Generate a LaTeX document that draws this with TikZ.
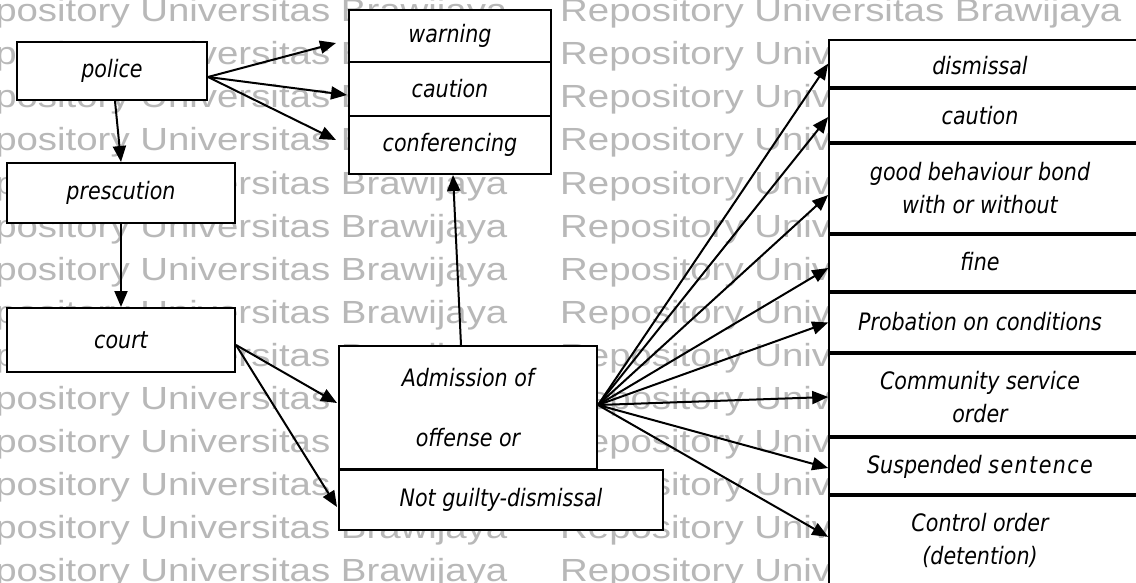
\documentclass[tikz,border=0pt]{standalone}
\usepackage{fontspec}
\setmainfont{DejaVu Sans}[FakeStretch=0.86]
\newfontfamily\wmfont{Liberation Sans}
\usetikzlibrary{arrows.meta,calc}
\definecolor{wmgray}{gray}{0.72}
\tikzset{
  wm/.style={font=\wmfont\fontsize{32}{32}\selectfont, text=wmgray, inner sep=0pt, anchor=base west},
  box/.style={draw, fill=white, line width=2pt, inner sep=0pt, font=\itshape\fontsize{24}{28}\selectfont, align=center},
  rbox/.style={draw, fill=white, line width=1.6pt, minimum width=316pt, inner sep=0pt},
  lbl/.style={inner sep=0pt, font=\itshape\fontsize{24}{33}\selectfont, align=center},
  arr/.style={line width=2pt, -{Triangle[length=16pt,width=13pt]}},
}
\begin{document}
\begin{tikzpicture}[x=1pt,y=-1pt]
\useasboundingbox (0,0) rectangle (1136,583);
\begin{scope}
\clip (0,0) rectangle (1136,583);
\fill[white] (0,0) rectangle (1136,583);
% watermark
\foreach \k in {0,...,13}{
  \node[wm] (wmL\k) at (-54,{22+43*\k}) {\scalebox{1.2}[1]{Repository Universitas Brawijaya}};
  \node[wm] (wmR\k) at (560,{22+43*\k}) {\scalebox{1.2}[1]{Repository Universitas Brawijaya}};
}
% left column
\node[box, minimum width=190pt, minimum height=58pt] (police) at (112,71) {police};
\node[box, minimum width=228pt, minimum height=60pt] (pres) at (121,193) {prescution};
\node[box, minimum width=228pt, minimum height=64pt] (court) at (121,340) {court};
% police outcomes
\node[box, minimum width=202pt, minimum height=52pt] (warn) at (450,36) {warning};
\node[box, minimum width=202pt, minimum height=54pt] (caut) at (450,89) {caution};
\node[box, minimum width=202pt, minimum height=58pt] (conf) at (450,145) {conferencing};
% court outcomes
\node[box, minimum width=258pt, minimum height=123pt] (adm) at (468,407.5) {Admission of\\[32pt]offense or};
\node[box, minimum width=324pt, minimum height=60pt] (ng) at (501,500) {Not guilty-dismissal};
% sentence column
\node[rbox, minimum height=47.25pt] (r1) at (987,63.6) {};
\node[rbox, minimum height=53.5pt] (r2) at (987,115.5) {};
\node[rbox, minimum height=89.5pt] (r3) at (987,188.5) {};
\node[rbox, minimum height=56.5pt] (r4) at (987,263) {};
\node[rbox, minimum height=59.5pt] (r5) at (987,322.5) {};
\node[rbox, minimum height=82.5pt] (r6) at (987,395) {};
\node[rbox, minimum height=56.5pt] (r7) at (987,466) {};
\node[rbox, minimum height=94.25pt] (r8) at (987,542.9) {};
\node[lbl] (t1) at (980,66) {dismissal};
\node[lbl] (t2) at (980,116) {caution};
\node[lbl] (t3) at (980,188) {good behaviour bond\\with or without};
\node[lbl] (t4) at (980,262) {fine};
\node[lbl] (t5) at (980,322) {Probation on conditions};
\node[lbl] (t6) at (980,397) {Community service\\order};
\node[lbl] (t7) at (980,467) {Suspended {\addfontfeature{LetterSpace=6}sentence}};
\node[lbl] (t8) at (980,540) {Control order\\(detention)};
% arrows
\draw[arr] ([yshift=-6pt]police.east) -- ([xshift=-12pt,yshift=-7pt]warn.west);
\draw[arr] ([yshift=-6pt]police.east) -- ([xshift=-1pt,yshift=-6pt]caut.west);
\draw[arr] ([yshift=-6pt]police.east) -- ([xshift=-12pt,yshift=5pt]conf.west);
\draw[arr] ([xshift=3pt]police.south) -- (pres.north);
\draw[arr] (pres.south) -- (court.north);
\draw[arr] ([yshift=-5pt]court.east) -- ([xshift=-1pt,yshift=4.5pt]adm.west);
\draw[arr] ([yshift=-5pt]court.east) -- ([xshift=-1pt,yshift=-7pt]ng.west);
\draw[arr] ([xshift=-7pt]adm.north) -- ([xshift=3pt]conf.south);
\coordinate (fan) at ([yshift=2.5pt]adm.east);
\draw[arr] (fan) -- (r1.west);
\draw[arr] (fan) -- ([yshift=-1.5pt]r2.west);
\draw[arr] (fan) -- ([yshift=-6.5pt]r3.west);
\draw[arr] (fan) -- ([yshift=-5pt]r4.west);
\draw[arr] (fan) -- (r5.west);
\draw[arr] (fan) -- ([yshift=-2pt]r6.west);
\draw[arr] (fan) -- ([yshift=-2pt]r7.west);
\draw[arr] (fan) -- ([yshift=6pt]r8.west);
\end{scope}
\end{tikzpicture}
\end{document}
